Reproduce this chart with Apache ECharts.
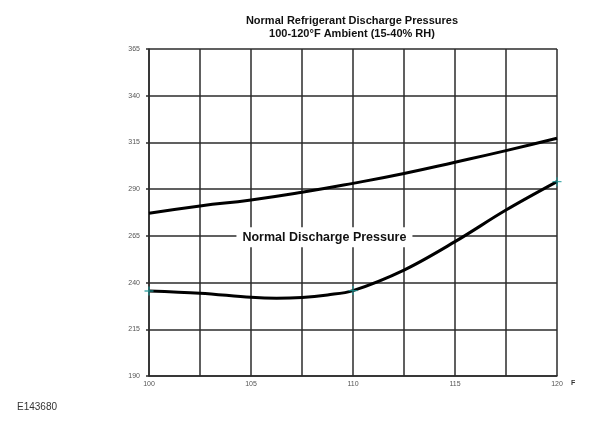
<!DOCTYPE html>
<html>
<head>
<meta charset="utf-8">
<script src="https://cdn.jsdelivr.net/npm/echarts@6/dist/echarts.min.js"></script>
<style>
  html, body { margin: 0; padding: 0; background: #fff; }
  #chart { width: 596px; height: 422px; }
</style>
</head>
<body>
<div id="chart"></div>
<script>
// ambient temperature (F) and upper pressure bound
const upperTemps = [100, 102.5, 105, 107.5, 110, 112.5, 115, 117.5, 120];
const upperPressure = [277.1, 281.0, 284.2, 288.3, 293.1, 298.4, 304.4, 310.6, 317.2];
// lower bound, read a little more densely round its dip
const lowerTemps = [100, 102.5, 105, 106.25, 107.5, 108.75, 110, 112.5, 115, 117.5, 120];
const lowerPressure = [235.5, 234.3, 232.1, 231.6, 232.0, 233.4, 235.7, 246.7, 261.9, 278.8, 294.0];
// measured points marked with teal crosses
const markTemps = [100, 110, 120];
const markPressure = [235.5, 235.7, 294.0];
const yTicks = [190, 215, 240, 265, 290, 315, 340, 365];
const labelAt = [108.6, 264.2];

// y axis runs from 190 in steps of 25, so plot relative to the base
const Y_BASE = yTicks[0];
const rel = (v) => v - Y_BASE;

const chart = echarts.init(document.getElementById("chart"));
const gridLine = { color: "#2b2b2b", width: 1.5 };
const font = "Liberation Sans, Arial, sans-serif";

chart.setOption({
  animation: false,
  title: {
    text: "Normal Refrigerant Discharge Pressures\n100-120°F Ambient (15-40% RH)",
    left: 347,
    top: 9,
    textAlign: "center",
    textStyle: { fontFamily: font, fontSize: 11, fontWeight: "bold", color: "#111", lineHeight: 13 }
  },
  graphic: [
    {
      type: "text",
      left: 17,
      top: 402,
      style: { text: "E143680", fontFamily: font, fontSize: 10, fill: "#333" }
    }
  ],
  grid: { left: 149, top: 49, width: 408, height: 327 },
  xAxis: {
    type: "value",
    min: upperTemps[0],
    max: upperTemps[upperTemps.length - 1],
    interval: 2.5,
    name: "F",
    nameGap: 14,
    nameTextStyle: { fontFamily: font, fontSize: 7, fontWeight: "bold", color: "#333", verticalAlign: "top", padding: [4, 0, 0, 0] },
    axisLine: { lineStyle: gridLine },
    axisTick: { show: false },
    splitLine: { lineStyle: gridLine },
    axisLabel: {
      fontFamily: font,
      fontSize: 7,
      color: "#555",
      margin: 5,
      formatter: (v) => (v % 5 === 0 ? String(v) : "")
    }
  },
  yAxis: {
    type: "value",
    min: 0,
    max: rel(yTicks[yTicks.length - 1]),
    interval: 25,
    axisLine: { show: true, lineStyle: gridLine },
    axisTick: { show: true, length: 3, lineStyle: gridLine },
    splitLine: { lineStyle: gridLine },
    axisLabel: {
      fontFamily: font,
      fontSize: 7,
      color: "#555",
      margin: 9,
      formatter: (v) => String(v + Y_BASE)
    }
  },
  series: [
    {
      type: "line",
      smooth: 0.5,
      showSymbol: false,
      lineStyle: { color: "#000", width: 3 },
      data: upperTemps.map((t, i) => [t, rel(upperPressure[i])]),
      z: 3
    },
    {
      type: "line",
      smooth: 0.35,
      showSymbol: false,
      lineStyle: { color: "#000", width: 3 },
      data: lowerTemps.map((t, i) => [t, rel(lowerPressure[i])]),
      z: 3,
      markPoint: {
        silent: true,
        symbol: "rect",
        symbolSize: [176, 20],
        itemStyle: { color: "#fff" },
        label: {
          show: true,
          position: "inside",
          formatter: "Normal Discharge Pressure",
          fontFamily: font,
          fontSize: 12.5,
          fontWeight: "bold",
          color: "#111"
        },
        data: [{ coord: [labelAt[0], rel(labelAt[1])] }]
      }
    },
    {
      type: "scatter",
      clip: false,
      symbol: "path://M4.25,0h1.5v10h-1.5zM0,4.25h10v1.5h-10z",
      symbolSize: 9,
      itemStyle: { color: "#1f9a9a" },
      data: markTemps.map((t, i) => [t, rel(markPressure[i])]),
      z: 4
    }
  ]
});
</script>
</body>
</html>
